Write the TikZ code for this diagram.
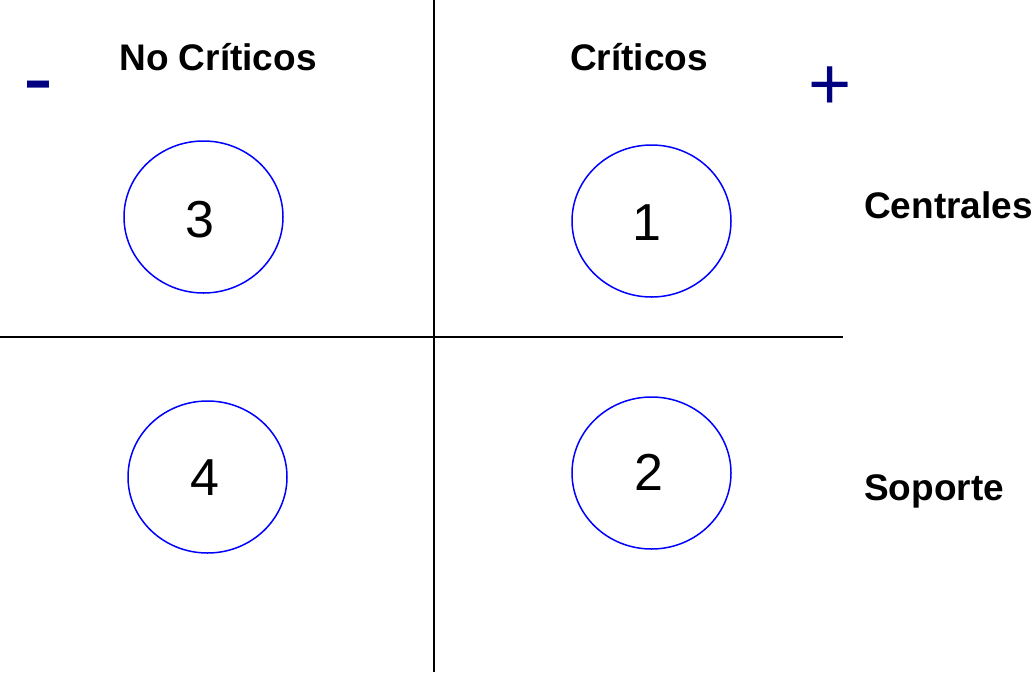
\documentclass[tikz,border=0pt]{standalone}
\usepackage{fontspec}
\setmainfont{Liberation Sans}
\usetikzlibrary{shapes.geometric}
\definecolor{navyc}{RGB}{0,0,128}
\definecolor{bluec}{RGB}{0,0,255}
\begin{document}
\begin{tikzpicture}[x=1pt,y=-1pt,
  quad/.style={draw=bluec,line width=1.5pt,ellipse,minimum width=159pt,minimum height=152pt,inner sep=0pt},
  digit/.style={inner sep=0pt,font=\fontsize{52}{52}\selectfont},
  head/.style={font=\fontsize{37}{37}\selectfont\bfseries,inner sep=0pt},
  sign/.style={text=navyc,inner sep=0pt},
  axis/.style={line width=1.5pt,black}]
\useasboundingbox (0,0) rectangle (1032,672);
\coordinate (vt) at (434,0);
\coordinate (vb) at (434,672);
\coordinate (hl) at (0,337);
\coordinate (hr) at (843,337);
\draw[axis] (vt) -- (vb);
\draw[axis] (hl) -- (hr);
\node[quad] (c3) at (203.5,217) {};
\node[quad] (c1) at (651.5,221) {};
\node[quad] (c4) at (207.5,477) {};
\node[quad] (c2) at (651.5,473) {};
\node[digit] (d3) at (200,219.5) {3};
\node[digit] (d1) at (647,223) {1};
\node[digit] (d4) at (204.5,477.5) {4};
\node[digit] (d2) at (648.5,472.5) {2};
\node[head] (nc) at (218,57) {No Críticos};
\node[head] (cr) at (639,57) {Críticos};
\node[head,anchor=west] (ce) at (864,205) {Centrales};
\node[head,anchor=west] (so) at (864,491) {Soporte};
\node[sign,font=\fontsize{90}{90}\selectfont] (mn) at (38.5,95) {-};
\node[sign,font=\fontsize{74}{74}\selectfont] (pl) at (830.5,88) {+};
\end{tikzpicture}
\end{document}
